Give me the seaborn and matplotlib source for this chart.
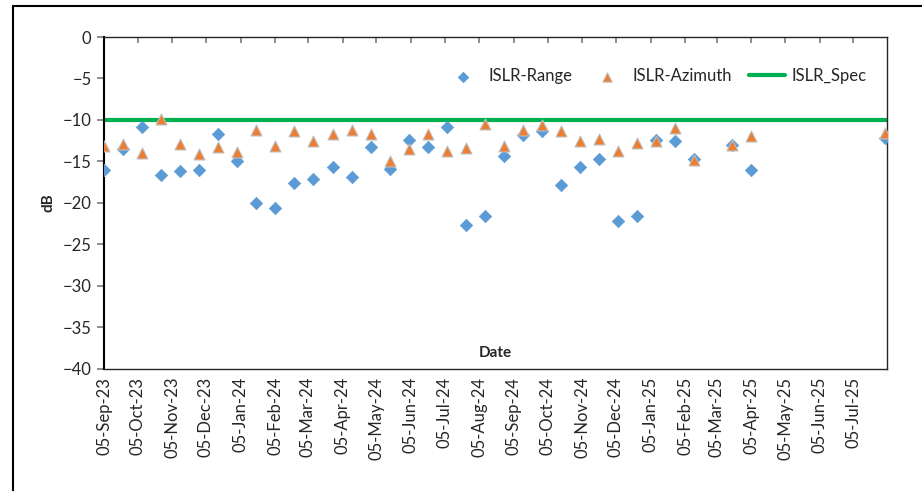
import matplotlib
matplotlib.use("Agg")
import matplotlib.pyplot as plt
import matplotlib.dates as mdates
import matplotlib.patches as mpatches
import seaborn as sns
import pandas as pd

# acquisition dates (17-day repeat)
dates = ["2023-09-05", "2023-09-22", "2023-10-09", "2023-10-26", "2023-11-12",
         "2023-11-29", "2023-12-16", "2024-01-02", "2024-01-19", "2024-02-05",
         "2024-02-22", "2024-03-10", "2024-03-27", "2024-04-13", "2024-04-30",
         "2024-05-17", "2024-06-03", "2024-06-20", "2024-07-07", "2024-07-24",
         "2024-08-10", "2024-08-27", "2024-09-13", "2024-09-30", "2024-10-17",
         "2024-11-03", "2024-11-20", "2024-12-07", "2024-12-24", "2025-01-10",
         "2025-01-27", "2025-02-13", "2025-03-19", "2025-04-05", "2025-08-02"]

islr_range = [-16.1, -13.5, -10.9, -16.6, -16.2, -16.1, -11.7, -15.0, -20.0, -20.6,
              -17.6, -17.1, -15.7, -16.9, -13.3, -15.9, -12.4, -13.3, -10.9, -22.7,
              -21.6, -14.3, -11.8, -11.3, -17.8, -15.7, -14.7, -22.2, -21.6, -12.4,
              -12.5, -14.7, -13.0, -16.0, -12.2]

islr_azimuth = [-13.2, -12.9, -14.0, -9.9, -12.9, -14.1, -13.3, -13.9, -11.2, -13.2,
                -11.3, -12.5, -11.7, -11.2, -11.7, -15.0, -13.5, -11.7, -13.8, -13.4,
                -10.5, -13.2, -11.2, -10.6, -11.4, -12.6, -12.3, -13.8, -12.8, -12.5,
                -11.0, -14.8, -13.0, -12.0, -11.6]

islr_spec = -10

sns.set_theme(style="white")
plt.rcParams['font.family'] = ['Lato', 'DejaVu Sans']

df = pd.DataFrame({'date': pd.to_datetime(dates), 'range': islr_range, 'azimuth': islr_azimuth})

fig = plt.figure(figsize=(9.22, 4.91), dpi=100)
ax = fig.add_axes([104/922, 1-368.5/491, (887-104)/922, (368.5-37)/491])

# outer chart border
fig.patches.append(mpatches.Rectangle((13/922, -0.1), 1.2, 1-5.5/491+0.1, transform=fig.transFigure,
                                      fill=False, edgecolor='black', linewidth=1.5))

ax.axhline(islr_spec, color='#00B050', linewidth=3, label='ISLR_Spec', zorder=1)
sns.scatterplot(data=df, x='date', y='range', marker='D', s=40, color='#5B9BD5',
                edgecolor='#5B9BD5', linewidth=0.5, label='ISLR-Range', ax=ax, zorder=3)
sns.scatterplot(data=df, x='date', y='azimuth', marker='^', s=62, color='#ED7D31',
                edgecolor='#BFBFBF', linewidth=0.8, label='ISLR-Azimuth', ax=ax, zorder=4)

ax.set_ylim(-40, 0)
ax.set_yticks(range(-40, 1, 5))
ax.set_xlim(pd.Timestamp("2023-09-05"), pd.Timestamp("2025-08-04"))
ax.xaxis.set_major_locator(mdates.MonthLocator(bymonthday=5))
ax.xaxis.set_major_formatter(mdates.DateFormatter('%d-%b-%y'))
ax.tick_params(axis='x', top=True, bottom=False, labelbottom=True, direction='in',
               length=4, color='#808080', rotation=90, labelsize=12, labelcolor='#262626', pad=6)
ax.tick_params(axis='y', left=True, direction='out', length=5, color='#808080',
               labelsize=12, labelcolor='#262626', pad=4)
for s in ax.spines.values():
    s.set_color('#262626')
    s.set_linewidth(1.0)
ax.spines['left'].set_linewidth(1.5)
ax.spines['left'].set_color('black')

ax.set_xlabel('')
ax.set_ylabel('dB', fontsize=11, fontweight='bold', labelpad=5)
ax.text(0.5, 0.048, 'Date', transform=ax.transAxes, ha='center', va='center',
        fontsize=11, fontweight='bold')

h, l = ax.get_legend_handles_labels()
order = [l.index('ISLR-Range'), l.index('ISLR-Azimuth'), l.index('ISLR_Spec')]
ax.legend([h[i] for i in order], [l[i] for i in order], loc='center',
          bbox_to_anchor=(0.705, 0.882), ncol=3, frameon=False, fontsize=12,
          handlelength=2.2, columnspacing=1.0, handletextpad=0.4, markerscale=0.85)

fig.savefig('out.png', dpi=100)
